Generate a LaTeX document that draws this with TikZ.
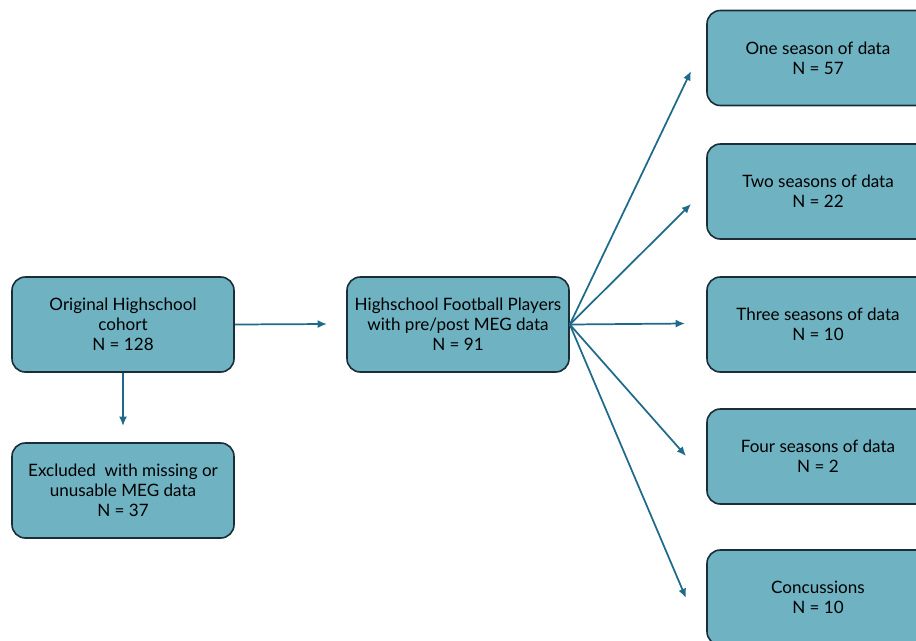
\documentclass[tikz,border=0pt]{standalone}
\usepackage{fontspec}
\setmainfont{Lato}
\usepackage{xcolor}
\usetikzlibrary{arrows.meta}
\definecolor{boxfill}{HTML}{6FB2C1}
\definecolor{boxline}{HTML}{1A2E3A}
\definecolor{arrowcol}{HTML}{1F6A8A}
\tikzset{
  flowbox/.style={draw=boxline, fill=boxfill, line width=1.2pt, rounded corners=10pt,
    minimum width=166.5pt, minimum height=71.25pt, align=center, inner sep=0pt,
    font=\fontsize{12.8pt}{15pt}\selectfont},
  flowarrow/.style={draw=arrowcol, line width=1.3pt, >={Latex[length=7pt,width=6pt]}, ->}
}
\begin{document}
\begin{tikzpicture}[x=0.75pt,y=-0.75pt]

\useasboundingbox (0,0) rectangle (916,640);
\clip (0,0) rectangle (916,640);

\node [flowbox] (orig) at (123,324.5) {Original Highschool\\cohort\\N = 128};
\node [flowbox] (excl) at (123,490.5) {Excluded\ \ with missing or\\unusable MEG data\\N = 37};
\node [flowbox] (hs) at (458,324.5) {Highschool Football Players\\with pre/post MEG data\\N = 91};

\node [flowbox] (one) at (818,58) {One season of data\\N = 57};
\node [flowbox] (two) at (818,191.5) {Two seasons of data\\N = 22};
\node [flowbox] (three) at (818,324.5) {Three seasons of data\\N = 10};
\node [flowbox] (four) at (818,456.5) {Four seasons of data\\N = 2};
\node [flowbox] (conc) at (818,597.5) {Concussions\\N = 10};

\coordinate (hsin) at (327,324);
\coordinate (exin) at (123,426);
\coordinate (onein) at (691,71);
\coordinate (twoin) at (691,204);
\coordinate (threein) at (685,323.5);
\coordinate (fourin) at (686,456);
\coordinate (concin) at (686,598);

\draw [flowarrow] (orig.east) -- (hsin);
\draw [flowarrow] (orig.south) -- (exin);

\draw [flowarrow] (hs.east) -- (onein);
\draw [flowarrow] (hs.east) -- (twoin);
\draw [flowarrow] (hs.east) -- (threein);
\draw [flowarrow] (hs.east) -- (fourin);
\draw [flowarrow] (hs.east) -- (concin);

\end{tikzpicture}
\end{document}
